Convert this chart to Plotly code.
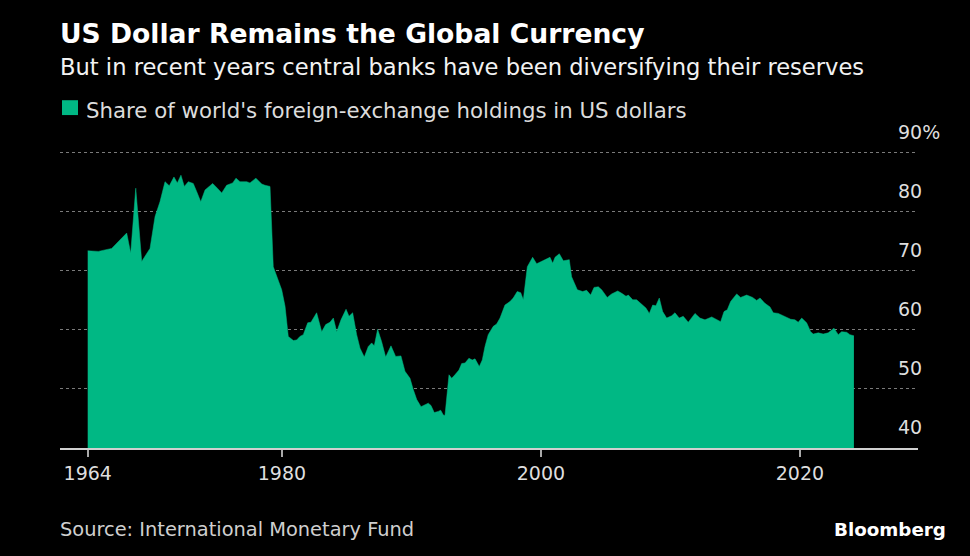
import plotly.graph_objects as go

# Data (decimal years, % share)
years = [1965.0, 1965.82, 1966.85, 1968.01, 1968.32, 1968.71, 1969.17, 1969.81, 1970.20, 1970.58,
         1970.97, 1971.30, 1971.66, 1971.92, 1972.20, 1972.46, 1972.77, 1973.15, 1973.42, 1973.73,
         1974.06, 1974.65, 1975.01, 1975.35, 1975.73, 1976.20, 1976.45, 1976.76, 1977.28, 1977.53,
         1977.99, 1978.44, 1978.69, 1978.95, 1979.08, 1979.33, 1979.98, 1980.24, 1980.49, 1980.88,
         1981.14, 1981.39, 1981.65, 1981.99, 1982.24, 1982.68, 1983.07, 1983.38, 1983.71, 1983.97,
         1984.23, 1984.56, 1984.95, 1985.18, 1985.46, 1985.77, 1986.03, 1986.36, 1986.67, 1986.93,
         1987.13, 1987.39, 1987.70, 1988.01, 1988.42, 1988.78, 1989.19, 1989.50, 1989.89, 1990.14,
         1990.41, 1990.74, 1991.05, 1991.30, 1991.51, 1991.76, 1992.07, 1992.26, 1992.46, 1992.59,
         1992.90, 1993.11, 1993.36, 1993.67, 1993.88, 1994.14, 1994.44, 1994.70, 1994.91, 1995.24,
         1995.47, 1995.68, 1995.93, 1996.32, 1996.58, 1996.84, 1997.22, 1997.61, 1997.86, 1998.17,
         1998.44, 1998.64, 1998.95, 1999.36, 1999.67, 2000.06, 2000.39, 2000.70, 2000.91, 2001.09,
         2001.42, 2001.73, 2002.19, 2002.37, 2002.81, 2003.22, 2003.53, 2003.84, 2004.10, 2004.43,
         2004.69, 2005.12, 2005.46, 2005.93, 2006.24, 2006.57, 2006.75, 2007.09, 2007.39, 2007.86,
         2008.11, 2008.37, 2008.63, 2008.88, 2009.14, 2009.40, 2009.71, 2010.10, 2010.35, 2010.68,
         2010.99, 2011.38, 2011.90, 2012.28, 2012.67, 2013.19, 2013.57, 2013.88, 2014.14, 2014.39,
         2014.65, 2015.12, 2015.42, 2015.89, 2016.35, 2016.66, 2016.92, 2017.30, 2017.69, 2017.94,
         2018.33, 2018.85, 2019.29, 2019.62, 2019.87, 2020.14, 2020.52, 2020.83, 2021.03, 2021.42,
         2021.80, 2022.19, 2022.63, 2022.96, 2023.22, 2023.61, 2023.86, 2024.17]

usd_share = [73.4, 73.3, 73.8, 76.4, 73.0, 84.0, 71.6, 73.8, 79.2, 81.7,
             85.1, 84.4, 85.9, 84.9, 86.2, 84.3, 85.1, 84.8, 83.4, 81.7,
             83.7, 84.8, 84.0, 83.2, 84.5, 84.9, 85.7, 85.1, 85.1, 84.9,
             85.7, 84.7, 84.5, 84.3, 84.3, 70.7, 66.8, 64.0, 58.9, 58.2,
             58.3, 58.9, 59.2, 61.2, 61.3, 62.9, 59.7, 60.9, 61.3, 62.0,
             59.7, 61.7, 63.5, 62.3, 62.9, 59.2, 56.9, 55.4, 57.2, 57.8,
             57.3, 60.1, 58.0, 55.4, 57.3, 55.5, 55.6, 53.0, 51.8, 49.9,
             48.2, 47.0, 47.3, 47.6, 47.2, 46.0, 46.2, 46.4, 45.6, 45.5,
             52.4, 51.8, 52.4, 53.2, 54.3, 54.4, 55.2, 54.9, 55.1, 53.8,
             54.9, 57.2, 59.2, 60.6, 61.0, 62.0, 64.2, 64.8, 65.4, 66.5,
             66.3, 65.1, 70.7, 72.3, 71.2, 71.6, 72.0, 72.3, 71.3, 72.3,
             72.9, 71.7, 71.9, 69.0, 66.8, 66.5, 66.7, 65.9, 67.2, 67.3,
             66.8, 65.5, 66.1, 66.6, 66.2, 65.7, 65.9, 65.1, 65.1, 64.1,
             63.7, 62.8, 64.2, 64.1, 65.4, 63.1, 62.0, 62.4, 62.9, 62.0,
             62.3, 61.3, 62.8, 62.0, 61.7, 62.2, 61.8, 61.4, 63.1, 63.4,
             64.8, 66.1, 65.5, 65.9, 65.5, 65.0, 65.4, 64.5, 63.9, 62.9,
             62.8, 62.2, 61.8, 61.7, 61.3, 62.0, 61.2, 59.7, 59.3, 59.5,
             59.3, 59.5, 60.3, 59.2, 59.7, 59.6, 59.2, 59.0]

x_tick_vals = [years[0], 1980, 2000, 2020]
x_tick_text = ["1964", "1980", "2000", "2020"]
y_tick_vals = [40, 50, 60, 70, 80, 90]
y_tick_text = ["40", "50", "60", "70", "80", "90%"]

GREEN = "#00b884"
FONT = "DejaVu Sans"

fig = go.Figure()
fig.add_trace(go.Scatter(
    x=years, y=usd_share, mode="lines", fill="tozeroy",
    line=dict(color=GREEN, width=0.5), fillcolor=GREEN,
    showlegend=False, hoverinfo="x+y",
))

annotations = []
for v, t in zip(y_tick_vals, y_tick_text):
    annotations.append(dict(
        x=0.9755, xref="paper", y=v, yref="y", text=t, showarrow=False,
        xanchor="left", yanchor="bottom", yshift=8, xshift=-1,
        font=dict(family=FONT, size=19, color="#dedede"),
    ))

annotations += [
    dict(x=0, xref="paper", y=1.397, yref="paper", xanchor="left", yanchor="middle", xshift=-2,
         text="<b>US Dollar Remains the Global Currency</b>", showarrow=False,
         font=dict(family=FONT, size=26.6, color="#ffffff")),
    dict(x=0, xref="paper", y=1.282, yref="paper", xanchor="left", yanchor="middle", xshift=-2,
         text="But in recent years central banks have been diversifying their reserves", showarrow=False,
         font=dict(family=FONT, size=22.6, color="#f2f2f2")),
    dict(x=0.0303, xref="paper", y=1.136, yref="paper", xanchor="left", yanchor="middle", xshift=-2,
         text="Share of world's foreign-exchange holdings in US dollars", showarrow=False,
         font=dict(family=FONT, size=21.3, color="#dcdcdc")),
    dict(x=0, xref="paper", y=-0.275, yref="paper", xanchor="left", yanchor="middle", xshift=-2,
         text="Source: International Monetary Fund", showarrow=False,
         font=dict(family=FONT, size=19.4, color="#cfcfcf")),
    dict(x=1.0315, xref="paper", y=-0.275, yref="paper", xanchor="right", yanchor="middle", xshift=3,
         text="<b>Bloomberg</b>", showarrow=False,
         font=dict(family=FONT, size=18.3, color="#ffffff")),
]

fig.update_layout(
    width=970, height=556,
    paper_bgcolor="#000000", plot_bgcolor="#000000",
    margin=dict(l=60, r=52, t=151, b=108),
    font=dict(family=FONT, color="#dedede"),
    showlegend=False,
    annotations=annotations,
    shapes=[dict(type="rect", xref="paper", yref="paper",
                 x0=0.0023, x1=0.021, y0=1.121, y1=1.171,
                 fillcolor=GREEN, line=dict(width=0))],
    xaxis=dict(
        range=[1962.86, 2029.12], tickmode="array", tickvals=x_tick_vals, ticktext=x_tick_text,
        showgrid=False, zeroline=False, showline=True, linecolor="#d0d0d0", linewidth=1.5,
        ticks="outside", ticklen=7, tickcolor="#aaaaaa", tickwidth=1.5,
        tickfont=dict(family=FONT, size=19, color="#dedede"),
    ),
    yaxis=dict(
        range=[40, 90.3], tickmode="array", tickvals=y_tick_vals, showticklabels=False,
        showgrid=True, gridcolor="#7a7a7a", griddash="3px,3px", gridwidth=1,
        zeroline=False, showline=False,
    ),
)

fig.write_html(
    "out.html",
    config={"displayModeBar": False},
    post_script="document.body.style.margin='0';document.body.style.background='#000';",
)
